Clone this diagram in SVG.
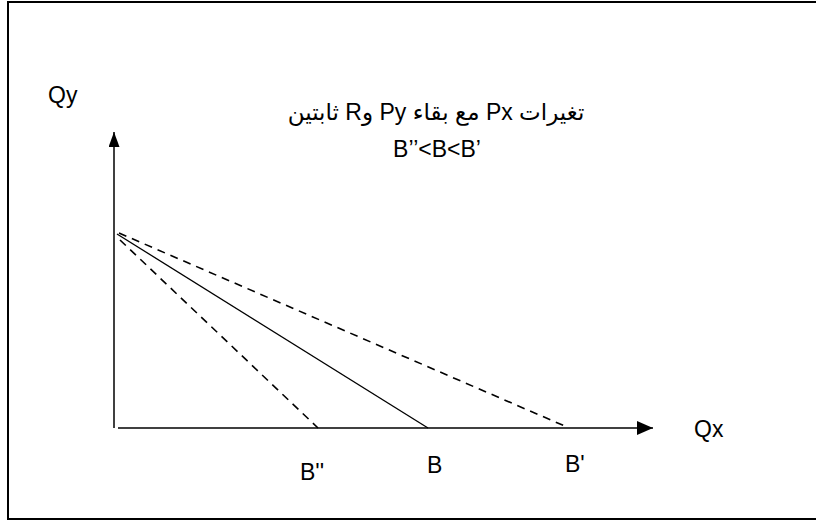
<svg xmlns="http://www.w3.org/2000/svg" width="816" height="520" viewBox="0 0 816 520">
<style>
.t{font-family:"Liberation Sans","DejaVu Sans",sans-serif;font-size:23px;fill:#000}
.ax{stroke:#000;stroke-width:1.5;fill:none}
.ln{stroke:#000;stroke-width:1.3;fill:none}
.ds{stroke:#000;stroke-width:1.6;fill:none;stroke-dasharray:8,6}
</style>
<defs>
<marker id="ahv" markerWidth="15" markerHeight="11" refX="15" refY="5.5" orient="auto" markerUnits="userSpaceOnUse" viewBox="0 0 15 11">
<path d="M0,0 L15,5.5 L0,11 Z" fill="#000"/>
</marker>
<marker id="ahh" markerWidth="16" markerHeight="14" refX="16" refY="7" orient="auto" markerUnits="userSpaceOnUse" viewBox="0 0 16 14">
<path d="M0,0 L16,7 L0,14 Z" fill="#000"/>
</marker>
</defs>
<rect id="frame" x="8" y="2" width="820" height="517" fill="#fff" stroke="#000" stroke-width="2"/>
<g id="connectors">
<line class="ax" x1="114" y1="428" x2="114" y2="132" marker-end="url(#ahv)"/>
<line class="ax" x1="118" y1="428" x2="653" y2="428" marker-end="url(#ahh)"/>
<line class="ln" x1="117" y1="234" x2="428" y2="428"/>
<line class="ds" x1="119" y1="233" x2="567" y2="427"/>
<line class="ds" x1="120" y1="240" x2="318" y2="428"/>
</g>
<g id="axis-labels">
<text class="t" x="48" y="103" font-size="24">Qy</text>
<text class="t" x="694" y="437" font-size="24">Qx</text>
</g>
<g id="point-labels">
<text class="t" x="300" y="480" font-size="24">B''</text>
<text class="t" x="427" y="473" font-size="24">B</text>
<text class="t" x="565" y="472" font-size="24">B'</text>
</g>
<g id="title">
<text class="t" x="436" y="120" text-anchor="middle" direction="rtl" unicode-bidi="embed">تغيرات Px مع بقاء Py وR ثابتين</text>
<text class="t" x="437" y="157" text-anchor="middle" font-size="21">B’’&lt;B&lt;B’</text>
</g>
</svg>
